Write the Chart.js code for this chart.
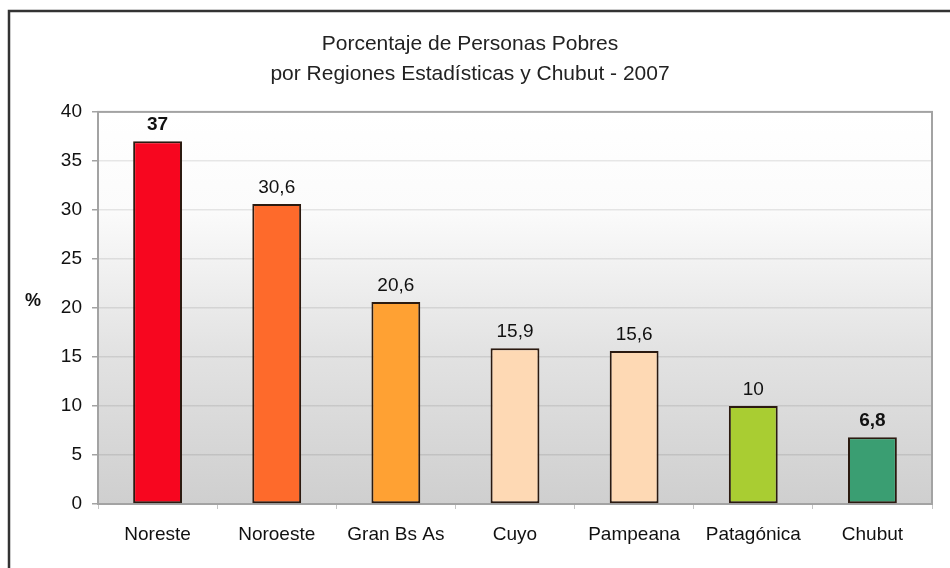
<!DOCTYPE html>
<html>
<head>
<meta charset="utf-8">
<script src="https://cdn.jsdelivr.net/npm/chart.js@4.4.1/dist/chart.umd.min.js"></script>
<style>
    html, body { margin: 0; padding: 0; background: #fff; overflow: hidden; }
    #wrap { width: 950px; height: 568px; }
</style>
</head>
<body>
<div id="wrap"><canvas id="povertyChart" width="950" height="568"></canvas></div>
<script>
// datos
const regions = ['Noreste', 'Noroeste', 'Gran Bs As', 'Cuyo', 'Pampeana', 'Patagónica', 'Chubut'];
const poorPct = [37, 30.6, 20.6, 15.9, 15.6, 10, 6.8];
const boldRegions = ['Noreste', 'Chubut'];
const yTicks = [0, 5, 10, 15, 20, 25, 30, 35, 40];

const barColors = ['#f7061f', '#fe6a2b', '#ffa133', '#fed9b4', '#fed9b4', '#a9cd32', '#3a9e72'];
const FONT = '"Liberation Sans", Arial, sans-serif';

// fondo degradado, marco exterior y el "%"
const frame = {
    id: 'frame',
    beforeDraw(chart) {
        const ctx = chart.ctx;
        const a = chart.chartArea;
        ctx.save();
        ctx.fillStyle = '#fff';
        ctx.fillRect(0, 0, chart.width, chart.height);
        var g = ctx.createLinearGradient(0, a.top, 0, a.bottom);
        g.addColorStop(0, '#ffffff');
        g.addColorStop(0.25, '#fbfbfb');
        g.addColorStop(0.6, '#e3e3e3');
        g.addColorStop(1, '#cfcfcf');
        ctx.fillStyle = g;
        ctx.fillRect(a.left, a.top, a.right - a.left, a.bottom - a.top);

        ctx.strokeStyle = '#333';
        ctx.lineWidth = 2.5;
        ctx.strokeRect(9, 11, 1200, 1200);

        ctx.fillStyle = '#111';
        ctx.font = 'bold 18px ' + FONT;
        ctx.textAlign = 'center';
        ctx.textBaseline = 'middle';
        ctx.fillText('%', 33, 301);
        ctx.restore();
    },
    beforeDatasetsDraw(chart) {
        const ctx = chart.ctx;
        const a = chart.chartArea;
        ctx.save();
        ctx.strokeStyle = '#a3a3a3';
        ctx.lineWidth = 2;
        ctx.strokeRect(a.left, a.top, a.right - a.left, a.bottom - a.top);
        ctx.restore();
    },
    afterDatasetsDraw(chart) {
        const ctx = chart.ctx;
        const meta = chart.getDatasetMeta(0);
        ctx.save();
        ctx.fillStyle = '#111';
        ctx.textAlign = 'center';
        ctx.textBaseline = 'bottom';
        meta.data.forEach(function(bar, i) {
            var bold = boldRegions.indexOf(regions[i]) !== -1;
            ctx.font = (bold ? 'bold ' : '') + '19px ' + FONT;
            var txt = String(poorPct[i]).replace('.', ',');
            ctx.fillText(txt, bar.x, bar.y - 7);
        });
        ctx.restore();
    }
};

new Chart(document.getElementById('povertyChart').getContext('2d'), {
    type: 'bar',
    data: {
        labels: regions,
        datasets: [{
            data: poorPct,
            backgroundColor: barColors,
            borderColor: '#2b1a10',
            borderWidth: 2,
            borderSkipped: false,
            barPercentage: 0.82,
            categoryPercentage: 0.5
        }]
    },
    options: {
        responsive: false,
        animation: false,
        layout: { padding: { left: 8, right: 18, top: 0, bottom: 10 } },
        plugins: {
            legend: { display: false },
            tooltip: { enabled: false },
            title: {
                display: true,
                text: ['Porcentaje de Personas Pobres', 'por Regiones Estadísticas y Chubut - 2007'],
                color: '#222',
                font: { family: FONT, size: 21, weight: 'normal', lineHeight: 1.45 },
                padding: { top: 29, bottom: 22 }
            }
        },
        scales: {
            x: {
                grid: { display: true, drawOnChartArea: false, drawTicks: true, tickLength: 5, color: '#c4c4c4' },
                border: { display: true, color: '#a3a3a3', width: 2 },
                ticks: { color: '#111', font: { family: FONT, size: 19 }, padding: 14 },
                afterFit(scale) { scale.height = 54; }
            },
            y: {
                min: 0,
                max: 40,
                afterBuildTicks(scale) { scale.ticks = yTicks.map(function(v) { return { value: v }; }); },
                grid: { color: 'rgba(0,0,0,0.09)', lineWidth: 1.5, tickLength: 6, tickColor: '#a3a3a3' },
                border: { display: true, color: '#a3a3a3', width: 2 },
                ticks: { color: '#111', font: { family: FONT, size: 19 }, padding: 10 },
                afterFit(scale) { scale.width = 90; }
            }
        }
    },
    plugins: [frame]
});
</script>
</body>
</html>
